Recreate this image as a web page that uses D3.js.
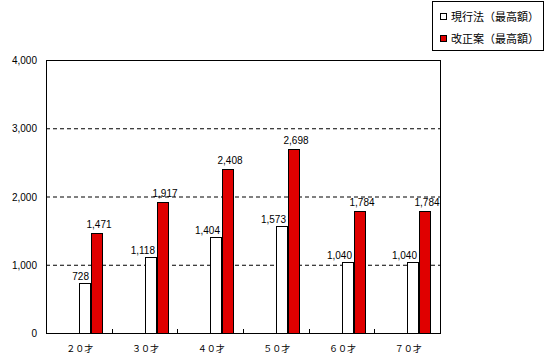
<!DOCTYPE html>
<html>
<head>
<meta charset="utf-8">
<script src="https://cdn.jsdelivr.net/npm/d3@7"></script>
<style>
  body { margin: 0; background: #fff; }
  svg { display: block; }
</style>
</head>
<body>
<svg id="chart" width="546" height="361"></svg>
<script>
"use strict";

// data
const categories = ["２０才", "３０才", "４０才", "５０才", "６０才", "７０才"];
const currentLaw = [728, 1118, 1404, 1573, 1040, 1040];
const revision = [1471, 1917, 2408, 2698, 1784, 1784];
const seriesNames = ["現行法（最高額）", "改正案（最高額）"];
const yTicks = [0, 1000, 2000, 3000, 4000];

const svg = d3.select("#chart");
const plot = { left: 46, right: 440, top: 60, bottom: 333 };
const numFont = "'Liberation Sans', Arial, sans-serif";
const jpFont = "'Noto Sans CJK JP', sans-serif";

const x = d3.scaleBand()
    .domain(categories)
    .range([plot.left, plot.right]);
const y = d3.scaleLinear()
    .domain([0, 4000])
    .range([plot.bottom, plot.top]);
const barW = 12;
const fmt = d3.format(",");

// dashed grid
svg.append("g")
    .attr("class", "yGrid")
    .selectAll("line")
    .data(yTicks.filter(d => d > 0 && d < 4000))
    .join("line")
    .attr("x1", plot.left).attr("x2", plot.right)
    .attr("y1", d => y(d) + 0.5).attr("y2", d => y(d) + 0.5)
    .attr("stroke", "#000")
    .attr("stroke-dasharray", "4,3");

// plot frame
svg.append("rect")
    .attr("x", plot.left + 0.5).attr("y", plot.top + 0.5)
    .attr("width", plot.right - plot.left).attr("height", plot.bottom - plot.top)
    .attr("fill", "none").attr("stroke", "#000");

// y labels
svg.append("g")
    .selectAll("text")
    .data(yTicks)
    .join("text")
    .attr("x", plot.left - 9)
    .attr("y", d => y(d) + 4)
    .attr("text-anchor", "end")
    .attr("font-family", numFont)
    .attr("font-size", 10)
    .text(d => fmt(d));

// inner ticks between categories
svg.append("g")
    .selectAll("line")
    .data(categories.slice(1))
    .join("line")
    .attr("x1", d => Math.round(x(d)) + 0.5).attr("x2", d => Math.round(x(d)) + 0.5)
    .attr("y1", plot.bottom).attr("y2", plot.bottom - 4)
    .attr("stroke", "#000");

// x labels
svg.append("g")
    .selectAll("text")
    .data(categories)
    .join("text")
    .attr("x", d => x(d) + x.bandwidth() / 2 + 1)
    .attr("y", 352)
    .attr("text-anchor", "middle")
    .attr("font-family", jpFont)
    .attr("font-size", 9)
    .text(d => d);

const mid = d => Math.round(x(d) + x.bandwidth() / 2);

// bars
const groups = svg.append("g").selectAll("g")
    .data(categories.map((c, i) => ({ c, a: currentLaw[i], b: revision[i] })))
    .join("g");

groups.append("rect")
    .attr("x", d => mid(d.c) + 0.5)
    .attr("y", d => Math.round(y(d.a)) + 0.5)
    .attr("width", barW - 1)
    .attr("height", d => plot.bottom - Math.round(y(d.a)))
    .attr("fill", "#fff").attr("stroke", "#000");

groups.append("rect")
    .attr("x", d => mid(d.c) + barW + 0.5)
    .attr("y", d => Math.round(y(d.b)) + 0.5)
    .attr("width", barW - 1)
    .attr("height", d => plot.bottom - Math.round(y(d.b)))
    .attr("fill", "#e00000").attr("stroke", "#000");

// value labels
groups.append("text")
    .attr("x", d => mid(d.c) + barW - 2)
    .attr("y", d => y(d.a) - 3)
    .attr("text-anchor", "end")
    .attr("font-family", numFont)
    .attr("font-size", 10)
    .text(d => fmt(d.a));

groups.append("text")
    .attr("x", d => mid(d.c) + barW * 1.5 + 2)
    .attr("y", d => y(d.b) - 5)
    .attr("text-anchor", "middle")
    .attr("font-family", numFont)
    .attr("font-size", 10)
    .text(d => fmt(d.b));

// legend
const legend = svg.append("g");
legend.append("rect")
    .attr("x", 432.5).attr("y", 1.5)
    .attr("width", 111).attr("height", 49)
    .attr("fill", "#fff").attr("stroke", "#000");
const items = legend.selectAll("g")
    .data(seriesNames)
    .join("g")
    .attr("transform", (d, i) => `translate(440, ${13 + i * 22})`);
items.append("rect")
    .attr("x", 0.5).attr("y", 0.5)
    .attr("width", 6).attr("height", 6)
    .attr("fill", (d, i) => i === 0 ? "#fff" : "#e00000")
    .attr("stroke", "#000");
items.append("text")
    .attr("x", 11).attr("y", 7.5)
    .attr("font-family", jpFont)
    .attr("font-size", 11)
    .text(d => d);
</script>
</body>
</html>
